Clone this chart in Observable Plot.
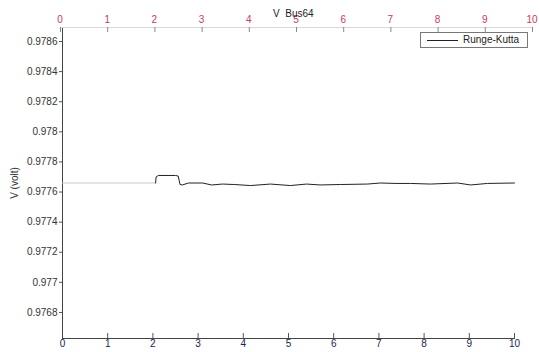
<!DOCTYPE html>
<html><head><meta charset="utf-8">
<script src="https://cdn.jsdelivr.net/npm/d3@7"></script>
<script src="https://cdn.jsdelivr.net/npm/@observablehq/plot@0.6"></script>
<style>
html,body{margin:0;background:#fff;font-family:"Liberation Sans",Arial,sans-serif;overflow:hidden;}
#wrap{position:relative;width:539px;height:352px;}
#wrap svg{position:absolute;left:0;top:0;overflow:visible;max-width:none;}
#title{position:absolute;left:273px;top:8px;font-size:10px;white-space:pre;color:#222;}
#legend{position:absolute;left:420px;top:32px;width:106px;height:14px;border:1px solid #777;background:#fff;font-size:10px;}
#legend .ln{position:absolute;left:6px;top:7px;width:31px;border-top:1px solid #222;}
#legend .tx{position:absolute;left:42px;top:1px;color:#222;}
.toplab{position:absolute;top:14px;width:20px;margin-left:-10px;text-align:center;font-size:10px;color:#c83a5c;line-height:11px;}
</style></head>
<body><div id="wrap"></div>
<script>
// Pre-disturbance segment (0–2 s)
const preT = [0, 2.06];
const preV = [0.977660, 0.977660];
// Runge-Kutta trace after disturbance
const rkT = [2.06,2.07,2.12,2.5,2.56,2.6,2.65,2.79,3.1,3.3,3.54,3.8,4.16,4.6,5.04,5.4,5.7,6.15,6.75,7.03,7.4,7.7,8.14,8.74,9.03,9.4,10];
const rkV = [0.977660,0.977700,0.977710,0.977710,0.977706,0.977650,0.977647,0.977660,0.977660,0.977647,0.977653,0.977650,0.977643,0.977653,0.977643,0.977653,0.977647,0.977650,0.977653,0.977660,0.977657,0.977657,0.977653,0.977660,0.977647,0.977657,0.977660];
const xTicks = [0,1,2,3,4,5,6,7,8,9,10];
const yTicks = [0.9768,0.977,0.9772,0.9774,0.9776,0.9778,0.978,0.9782,0.9784,0.9786];
const topTicks = [0,1,2,3,4,5,6,7,8,9,10];
const titleText = "V  Bus64";
const legendLabel = "Runge-Kutta";
const yLabel = "V (volt)";

const pre = preT.map((t,i)=>({t, v: preV[i]}));
const rk = rkT.map((t,i)=>({t, v: rkV[i]}));
const W = 539, H = 352, mT = 27, mB = 14;

const mainPlot = Plot.plot({
  width: W, height: H,
  marginLeft: 62, marginRight: 25, marginTop: mT, marginBottom: mB,
  style: {fontFamily: "Liberation Sans, Arial, sans-serif", fontSize: "10px", background: "transparent"},
  x: {domain: [0, 10]},
  y: {domain: [0.976627, 0.978693]},
  marks: [
    Plot.axisY(yTicks, {tickSize: 3, tickPadding: 2, stroke: "#555", color: "#333",
      tickFormat: d => String(+d.toFixed(4)), label: yLabel, labelAnchor: "center", labelOffset: 52, labelArrow: "none"}),
    Plot.axisX(xTicks, {tickSize: 0, tickPadding: 1, color: "#1a2450", label: null}),
    Plot.ruleX(xTicks, {x: d => d, insetTop: H - mT - mB - 5, stroke: "#555"}),
    Plot.frame({anchor: "left", stroke: "#444"}),
    Plot.frame({anchor: "bottom", stroke: "#444"}),
    Plot.line(pre, {x: "t", y: "v", stroke: "#c8c8c8", strokeWidth: 1}),
    Plot.line(rk, {x: "t", y: "v", stroke: "#222", strokeWidth: 1})
  ]
});

const topPlot = Plot.plot({
  width: W, height: 40,
  marginLeft: 60, marginRight: 7, marginTop: 27, marginBottom: 8,
  style: {background: "transparent", overflow: "visible"},
  x: {domain: [0, 10], axis: null},
  marks: [
    Plot.frame({anchor: "top", stroke: "#d8d8d8"}),
    Plot.tickX(topTicks, {x: d => d, stroke: "#888"})
  ]
});

const wrap = document.getElementById("wrap");
wrap.appendChild(mainPlot);
wrap.appendChild(topPlot);
// top tick labels placed with the overlay plot's own x scale
const sx = topPlot.scale("x");
topTicks.forEach(d => {
  const s = document.createElement("div");
  s.className = "toplab";
  s.style.left = sx.apply(d) + "px";
  s.textContent = String(d);
  wrap.appendChild(s);
});
const tt = document.createElement("div"); tt.id = "title"; tt.textContent = titleText; wrap.appendChild(tt);
const lg = document.createElement("div"); lg.id = "legend";
lg.innerHTML = '<div class="ln"></div><div class="tx"></div>';
lg.querySelector(".tx").textContent = legendLabel;
wrap.appendChild(lg);
</script></body></html>
